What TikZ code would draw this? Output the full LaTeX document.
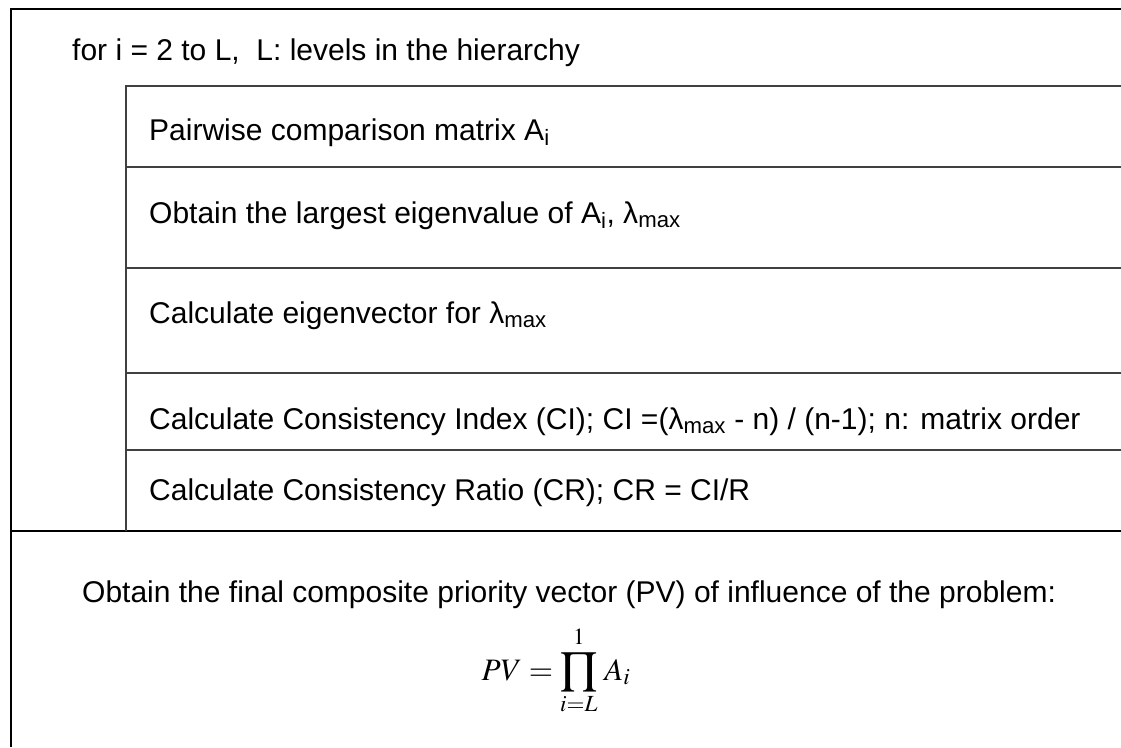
\documentclass[tikz,border=0pt]{standalone}
\usepackage{mathptmx}
\usepackage{fontspec}
\setmainfont{Liberation Sans}
\newcommand\lsub[1]{\textsubscript{#1}}

\begin{document}
\begin{tikzpicture}[
  x=1pt,y=-1pt,
  outerline/.style={draw=black,line width=1.6pt},
  innerline/.style={draw=black!75,line width=1.1pt},
  rowtext/.style={anchor=base west,inner sep=0pt,font=\fontsize{30}{36}\selectfont}
]
  \useasboundingbox (0,0) rectangle (1121,747);
  % frame of the loop
  \draw[outerline] (11,747) -- (11,9) -- (1121,9);
  \draw[outerline,line width=1.3pt] (11,531) -- (1121,531);
  \draw[innerline] (126,531) -- (126,86) -- (1121,86);
  \foreach \y in {167,268,373,450}
    \draw[innerline] (126,\y) -- (1121,\y);
  % texts
  \node[rowtext] (forloop) at (72,60) {for i = 2 to L,\ \ L: levels in the hierarchy};
  \node[rowtext] (pairwise) at (149,140) {Pairwise comparison matrix A\lsub{i}};
  \node[rowtext] (eigval) at (149,223) {Obtain the largest eigenvalue of A\lsub{i}, λ\lsub{max}};
  \node[rowtext] (eigvec) at (149,323) {Calculate eigenvector for λ\lsub{max}};
  \node[rowtext] (cindex) at (149,429) {Calculate Consistency Index (CI); CI =(λ\lsub{max} - n) / (n-1); n: matrix order};
  \node[rowtext] (cratio) at (149,500) {Calculate Consistency Ratio (CR); CR = CI/R};
  \node[rowtext] (composite) at (82,602) {Obtain the final composite priority vector (PV) of influence of the problem:};
  \node[anchor=base,inner sep=0pt,font=\fontsize{24}{29}\selectfont] (pvformula) at (556,680)
    {\scalebox{1.3}{$\displaystyle PV=\prod_{i=L}^{\raisebox{2pt}{$\scriptstyle 1$}}\,A_{i}$}};
\end{tikzpicture}
\end{document}
